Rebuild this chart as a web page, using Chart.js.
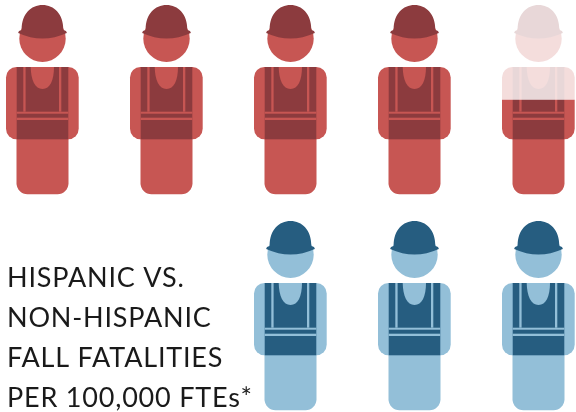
<!DOCTYPE html>
<html>
<head>
<meta charset="utf-8">
<style>
  html, body { margin: 0; padding: 0; background: #fff; }
  canvas { display: block; }
</style>
<script src="https://cdn.jsdelivr.net/npm/chart.js@4"></script>
</head>
<body>
<canvas id="myChart" width="576" height="412"></canvas>
<script>
// one column per worker, value = how much of that worker is filled
var columns = ['1', '2', '3', '4', '5'];
var rows = ['Hispanic', 'Non-Hispanic'];
var hispanicFill = [1, 1, 1, 1, 0.5];
var nonHispanicFill = [null, null, 1, 1, 1];
var titleLines = ['HISPANIC VS.', 'NON-HISPANIC', 'FALL FATALITIES', 'PER 100,000 FTEs*'];

var iconW = 86, iconH = 200;

function roundRect(c, x, y, w, h, r) {
    c.beginPath();
    c.roundRect(x, y, w, h, r);
    c.fill();
}

function drawWorker(c, light, dark) {
    // body
    c.fillStyle = light;
    roundRect(c, 16.5, 120, 52, 74.3, [0, 0, 11, 11]);
    roundRect(c, 6, 67, 72.7, 72.3, 10.5);
    c.beginPath();
    c.arc(42.5, 38.7, 23.2, 0, Math.PI * 2);
    c.fill();

    // hard hat
    c.fillStyle = dark;
    c.beginPath();
    c.moveTo(21.7, 30);
    c.bezierCurveTo(21.5, 14, 31, 5, 42.5, 5);
    c.bezierCurveTo(54, 5, 63.5, 14, 63.3, 30);
    c.quadraticCurveTo(66.8, 30.5, 66.8, 33);
    c.quadraticCurveTo(42.5, 44, 18.2, 33);
    c.quadraticCurveTo(18.2, 30.5, 21.7, 30);
    c.fill();

    // vest
    c.fillRect(16.7, 67, 51.6, 72.3);
    c.fillStyle = light;
    c.fillRect(23.3, 67, 2.3, 44.7);
    c.fillRect(59, 67, 2.3, 44.7);
    c.fillRect(16.7, 111.7, 51.6, 2);
    c.fillRect(16.7, 117.7, 51.6, 2.3);
    c.beginPath();
    c.moveTo(30.7, 67);
    c.bezierCurveTo(31, 80, 35, 89, 42.5, 89);
    c.bezierCurveTo(50, 89, 54, 80, 54, 67);
    c.fill();
}

function workerIcon(light, dark, fill) {
    var base = document.createElement('canvas');
    base.width = iconW;
    base.height = iconH;
    drawWorker(base.getContext('2d'), light, dark);
    if (fill >= 1) return base;

    // empty part of the worker stays faded, filled from the feet up
    var icon = document.createElement('canvas');
    icon.width = iconW;
    icon.height = iconH;
    var c = icon.getContext('2d');
    var level = 5 + (1 - fill) * 189.3;
    c.save();
    c.beginPath();
    c.rect(0, 0, iconW, level);
    c.clip();
    c.globalAlpha = 0.2;
    c.drawImage(base, 0, 0);
    c.restore();
    c.save();
    c.beginPath();
    c.rect(0, level, iconW, iconH - level);
    c.clip();
    c.drawImage(base, 0, 0);
    c.restore();
    return icon;
}

function toPoints(values, row) {
    var pts = [];
    values.forEach(function (v, i) {
        if (v !== null) pts.push({ x: columns[i], y: row, fill: v });
    });
    return pts;
}

var sideTitle = {
    id: 'sideTitle',
    afterDraw: function (chart) {
        var c = chart.ctx;
        c.save();
        c.fillStyle = '#1a1a1a';
        c.font = '27px Lato';
        c.letterSpacing = '0.8px';
        c.textBaseline = 'alphabetic';
        titleLines.forEach(function (line, i) {
            c.fillText(line, 7, 287 + i * 40);
        });
        c.restore();
    }
};

var myChart = new Chart(document.getElementById('myChart').getContext('2d'), {
    type: 'scatter',
    data: {
        datasets: [{
            label: rows[0],
            data: toPoints(hispanicFill, rows[0]),
            clip: false,
            pointStyle: function (ctx) {
                return workerIcon('#c75653', '#8c3b3e', ctx.raw.fill);
            }
        }, {
            label: rows[1],
            data: toPoints(nonHispanicFill, rows[1]),
            clip: false,
            pointStyle: function (ctx) {
                return workerIcon('#93bfd8', '#265d80', ctx.raw.fill);
            }
        }]
    },
    options: {
        responsive: false,
        animation: false,
        layout: { padding: { left: 43, right: 37, top: 100, bottom: 96 } },
        scales: {
            x: { type: 'category', labels: columns, offset: false, display: false },
            y: { type: 'category', labels: rows, offset: false, display: false }
        },
        plugins: {
            legend: { display: false },
            tooltip: { enabled: false }
        }
    },
    plugins: [sideTitle]
});
</script>
</body>
</html>
